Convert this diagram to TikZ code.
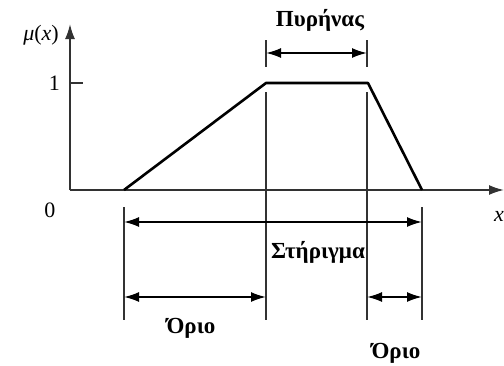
\documentclass[tikz,border=0pt]{standalone}
\usepackage{fontspec}
\setmainfont{Liberation Serif}
\usetikzlibrary{arrows.meta, positioning}
\definecolor{axisgray}{RGB}{50,50,50}

\begin{document}
\begin{tikzpicture}[
  x=1pt, y=-1pt,
  axis/.style={draw=axisgray, line width=1.8pt, -{Latex[length=15pt,width=10pt]}},
  curve/.style={draw=black, line width=2.6pt, line join=round},
  guide/.style={draw=axisgray, line width=1.8pt},
  dim/.style={draw=black, line width=1.8pt,
              {Latex[length=15pt,width=10pt]}-{Latex[length=15pt,width=10pt]}},
  lbl/.style={font=\fontsize{23}{25}\selectfont\bfseries, inner sep=0pt},
  num/.style={font=\fontsize{22}{24}\selectfont, inner sep=0pt}
]
  \useasboundingbox (0,0) rectangle (504,365);

  % Axes
  \coordinate (O) at (70,190);
  \coordinate (ytop) at (70,24);
  \coordinate (xend) at (504,190);
  \draw[axis] (O) -- (ytop);
  \draw[axis] (O) -- (xend);
  \coordinate (one) at (70,83);
  \coordinate (onetick) at (83,83);
  \draw[guide] (one) -- (onetick);

  \node[num, anchor=east] (mu) at (59,35) {\textit{μ}(\textit{x})};
  \node[num, left=10pt of one] (onelbl) {1};
  \node[num] (zero) at (50,210) {0};
  \node[num, anchor=east] (xlbl) at (504,216) {\textit{x}};

  % Trapezoid
  \coordinate (a) at (124,190);
  \coordinate (b) at (266,83);
  \coordinate (c) at (368,83);
  \coordinate (d) at (422,190);
  \draw[curve] (a) -- (b) -- (c) -- (d);

  % Guide lines
  \coordinate (aT) at (124,207); \coordinate (aB) at (124,320);
  \coordinate (bT) at (266,92);  \coordinate (bB) at (266,320);
  \coordinate (cT) at (367,92);  \coordinate (cB) at (367,320);
  \coordinate (dT) at (422,207); \coordinate (dB) at (422,320);
  \draw[guide] (aT) -- (aB);
  \draw[guide] (bT) -- (bB);
  \draw[guide] (cT) -- (cB);
  \draw[guide] (dT) -- (dB);
  \coordinate (kL1) at (266,40); \coordinate (kL2) at (266,67);
  \coordinate (kR1) at (367,40); \coordinate (kR2) at (367,67);
  \draw[guide] (kL1) -- (kL2);
  \draw[guide] (kR1) -- (kR2);

  % Dimension arrows
  \coordinate (kA) at (266,53);  \coordinate (kB) at (367,53);
  \coordinate (sA) at (124,222); \coordinate (sB) at (422,222);
  \coordinate (lA) at (124,297); \coordinate (lB) at (266,297);
  \coordinate (rA) at (367,297); \coordinate (rB) at (422,297);
  \draw[dim] (kA) -- (kB);
  \draw[dim] (sA) -- (sB);
  \draw[dim] (lA) -- (lB);
  \draw[dim] (rA) -- (rB);

  % Labels
  \node[lbl] (kernel) at (320,20) {Πυρήνας};
  \node[lbl] (support) at (318,252) {Στήριγμα};
  \node[lbl] (bound1) at (191,328) {Όριο};
  \node[lbl] (bound2) at (396,353) {Όριο};
\end{tikzpicture}
\end{document}
